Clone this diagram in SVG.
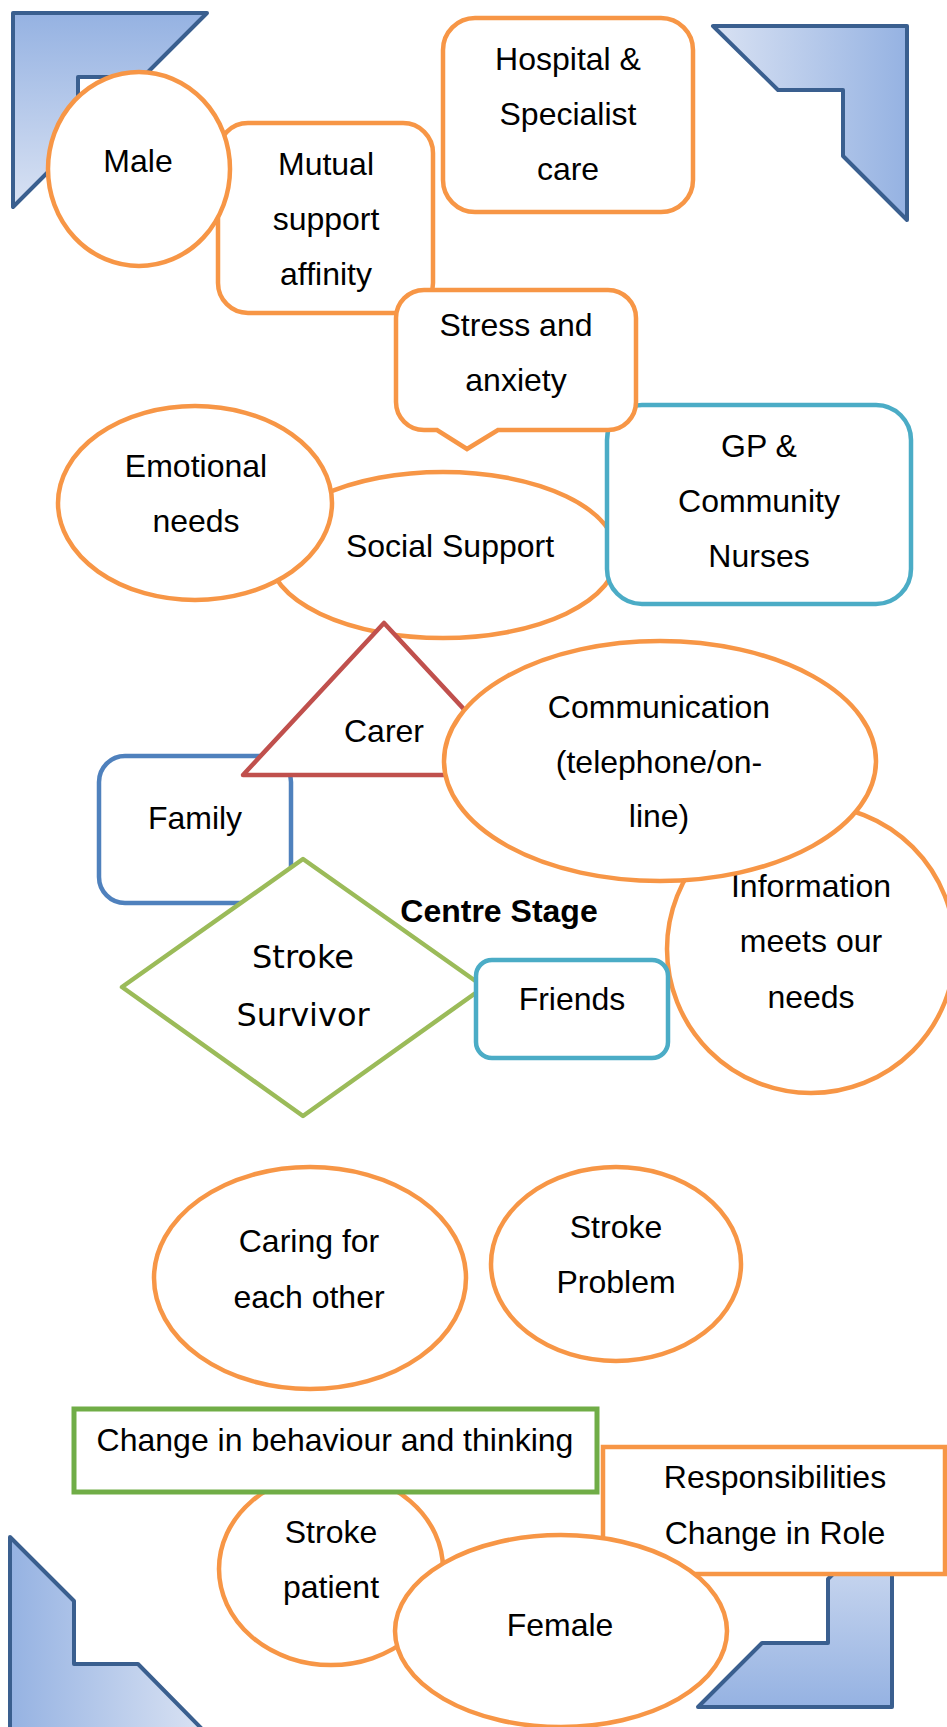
<svg xmlns="http://www.w3.org/2000/svg" width="947" height="1727" viewBox="0 0 947 1727">
<style>
.t{font-family:"Liberation Sans",Arial,sans-serif;font-size:32px;fill:#000;text-anchor:middle}
.b{font-weight:bold}
.v{font-family:"DejaVu Sans",Verdana,sans-serif;font-size:32px;fill:#000;text-anchor:middle}
.o{fill:#fff;stroke:#f79646;stroke-width:4.5}
.corner{stroke:#3a5f8f;stroke-width:4;stroke-linejoin:round}
</style>
<defs>
<linearGradient id="gTL" x1="0" y1="0" x2="0" y2="1"><stop offset="0" stop-color="#95b2e2"/><stop offset="1" stop-color="#d9e2f3"/></linearGradient>
<linearGradient id="gTR" x1="0" y1="0" x2="1" y2="0"><stop offset="0" stop-color="#d9e2f3"/><stop offset="1" stop-color="#95b2e2"/></linearGradient>
<linearGradient id="gBL" x1="0" y1="0" x2="1" y2="0"><stop offset="0" stop-color="#95b2e2"/><stop offset="1" stop-color="#d9e2f3"/></linearGradient>
<linearGradient id="gBR" x1="0" y1="0" x2="0" y2="1"><stop offset="0" stop-color="#d9e2f3"/><stop offset="1" stop-color="#95b2e2"/></linearGradient>
</defs>

<g id="corner-tl"><polygon class="corner" fill="url(#gTL)" points="13,13 207,13 143,77 78,77 78,142 13,207"/></g>
<g id="corner-tr"><polygon class="corner" fill="url(#gTR)" points="713,26 907,26 907,220 843,156 843,90 778,90"/></g>
<g id="corner-bl"><polygon class="corner" fill="url(#gBL)" points="10,1537 74,1601 74,1664 138,1664 202,1729 10,1729"/></g>
<g id="corner-br"><polygon class="corner" fill="url(#gBR)" points="892,1515 892,1707 698,1707 762,1643 828,1643 828,1579"/></g>

<g id="connectors"></g>

<g id="hospital">
<rect class="o" x="443" y="18" width="250" height="194" rx="32"/>
<text class="t" x="568" y="70">Hospital &amp;</text>
<text class="t" x="568" y="125">Specialist</text>
<text class="t" x="568" y="180">care</text>
</g>
<g id="mutual">
<rect class="o" x="218" y="123" width="215" height="190" rx="30"/>
<text class="t" x="326" y="175">Mutual</text>
<text class="t" x="326" y="230">support</text>
<text class="t" x="326" y="285">affinity</text>
</g>
<g id="male">
<ellipse class="o" cx="139" cy="169" rx="91" ry="97"/>
<text class="t" x="138" y="172">Male</text>
</g>
<g id="social">
<ellipse class="o" cx="443" cy="555" rx="174" ry="83"/>
<text class="t" x="450" y="557">Social Support</text>
</g>
<g id="emotional">
<ellipse class="o" cx="195" cy="503" rx="137" ry="97"/>
<text class="t" x="196" y="477">Emotional</text>
<text class="t" x="196" y="532">needs</text>
</g>
<g id="gp">
<rect x="607" y="405" width="304" height="199" rx="35" fill="#fff" stroke="#4bacc6" stroke-width="4.5"/>
<text class="t" x="759" y="457">GP &amp;</text>
<text class="t" x="759" y="512">Community</text>
<text class="t" x="759" y="567">Nurses</text>
</g>
<g id="stress">
<path class="o" d="M424 290 H608 A28 28 0 0 1 636 318 V402 A28 28 0 0 1 608 430 H498 L467 449 L437 430 H424 A28 28 0 0 1 396 402 V318 A28 28 0 0 1 424 290 Z"/>
<text class="t" x="516" y="336">Stress and</text>
<text class="t" x="516" y="391">anxiety</text>
</g>
<g id="family">
<rect x="99" y="756" width="192" height="147" rx="26" fill="#fff" stroke="#4f81bd" stroke-width="4.5"/>
<text class="t" x="195" y="829">Family</text>
</g>
<g id="carer">
<polygon points="384,623 525,775 243,775" fill="#fff" stroke="#c0504d" stroke-width="4.5" stroke-linejoin="round"/>
<text class="t" x="384" y="742">Carer</text>
</g>
<g id="information">
<circle class="o" cx="811" cy="949" r="144"/>
<text class="t" x="811" y="897">Information</text>
<text class="t" x="811" y="952">meets our</text>
<text class="t" x="811" y="1008">needs</text>
</g>
<g id="communication">
<ellipse class="o" cx="660" cy="761" rx="216" ry="120"/>
<text class="t" x="659" y="718">Communication</text>
<text class="t" x="659" y="773">(telephone/on-</text>
<text class="t" x="659" y="827">line)</text>
</g>
<g id="survivor">
<polygon points="303,859 484,987 303,1116 122,987" fill="#fff" stroke="#9bbb59" stroke-width="4.5" stroke-linejoin="round"/>
<text class="v" x="303" y="968">Stroke</text>
<text class="v" x="303" y="1026">Survivor</text>
</g>
<g id="friends">
<rect x="476" y="960" width="192" height="98" rx="16" fill="#fff" stroke="#4bacc6" stroke-width="4.5"/>
<text class="t" x="572" y="1010">Friends</text>
</g>
<g id="centre-stage">
<text class="t b" x="499" y="922">Centre Stage</text>
</g>
<g id="caring">
<ellipse class="o" cx="310" cy="1278" rx="156" ry="111"/>
<text class="t" x="309" y="1252">Caring for</text>
<text class="t" x="309" y="1308">each other</text>
</g>
<g id="problem">
<ellipse class="o" cx="616" cy="1264" rx="125" ry="97"/>
<text class="t" x="616" y="1238">Stroke</text>
<text class="t" x="616" y="1293">Problem</text>
</g>
<g id="patient">
<ellipse class="o" cx="331" cy="1569" rx="112" ry="96"/>
<text class="t" x="331" y="1543">Stroke</text>
<text class="t" x="331" y="1598">patient</text>
</g>
<g id="change">
<rect x="74" y="1409" width="523" height="83" fill="#fff" stroke="#70ad47" stroke-width="5"/>
<text class="t" x="335" y="1451">Change in behaviour and thinking</text>
</g>
<g id="responsibilities">
<rect class="o" x="603" y="1447" width="342" height="127" stroke-width="5"/>
<text class="t" x="775" y="1488">Responsibilities</text>
<text class="t" x="775" y="1544">Change in Role</text>
</g>
<g id="female">
<ellipse class="o" cx="561" cy="1631" rx="166" ry="96"/>
<text class="t" x="560" y="1636">Female</text>
</g>
</svg>
